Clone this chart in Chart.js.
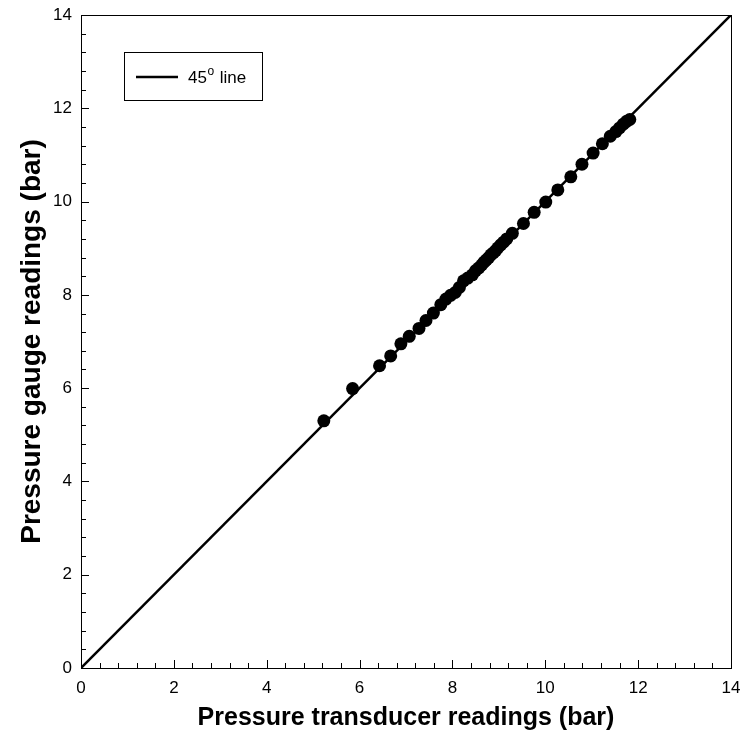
<!DOCTYPE html>
<html>
<head>
<meta charset="utf-8">
<script src="https://cdn.jsdelivr.net/npm/chart.js@4/dist/chart.umd.min.js"></script>
<style>
  body { margin: 0; background: #fff; }
  canvas { display: block; }
</style>
</head>
<body>
<canvas id="chartId" width="741" height="744"></canvas>
<script>
// Pressure gauge vs pressure transducer readings

const transducer = [5.23, 5.85, 6.43, 6.67, 6.89, 7.07, 7.28, 7.43, 7.59, 7.75, 7.86, 7.96, 8.06, 8.15, 8.24,
  8.33, 8.43, 8.5, 8.57, 8.63, 8.68, 8.73, 8.78, 8.83, 8.88, 8.93, 8.98, 9.04, 9.1, 9.17,
  9.29, 9.53, 9.76, 10.01, 10.27, 10.55, 10.79, 11.03, 11.23, 11.4, 11.52, 11.6, 11.68, 11.75, 11.82];
const gauge = [5.30, 5.99, 6.48, 6.69, 6.95, 7.11, 7.28, 7.45, 7.61, 7.79, 7.91, 7.99, 8.05, 8.16, 8.3,
  8.36, 8.43, 8.52, 8.58, 8.64, 8.70, 8.75, 8.80, 8.86, 8.90, 8.95, 9.01, 9.07, 9.13, 9.2,
  9.32, 9.53, 9.77, 9.99, 10.25, 10.53, 10.8, 11.04, 11.24, 11.4, 11.5, 11.58, 11.66, 11.72, 11.76];
const lineX = [0, 14];
const lineY = [0, 14];
const axisMin = 0;
const axisMax = 14;
const majorStep = 2;
const minorStep = 0.4;

const FONT = "Arial, 'Liberation Sans', Helvetica, sans-serif";

const points = transducer.map((x, i) => ({x: x, y: gauge[i]}));
const linePts = lineX.map((x, i) => ({x: x, y: lineY[i]}));

// box round the plot, inward ticks and the legend
const framePlugin = {
  id: 'frame',
  afterDraw(chart) {
    const ctx = chart.ctx;
    const a = chart.chartArea;
    const xs = chart.scales.x;
    const ys = chart.scales.y;
    ctx.save();
    ctx.strokeStyle = '#000';
    ctx.lineWidth = 1;
    ctx.strokeRect(a.left + 0.5, a.top + 0.5, a.right - a.left, a.bottom - a.top);

    const n = Math.round((axisMax - axisMin) / minorStep);
    ctx.beginPath();
    for (let i = 0; i <= n; i++) {
      const v = axisMin + i * minorStep;
      const len = (i % Math.round(majorStep / minorStep) === 0) ? 8 : 5;
      const px = Math.round(xs.getPixelForValue(v)) + 0.5;
      ctx.moveTo(px, a.bottom);
      ctx.lineTo(px, a.bottom - len);
      const py = Math.round(ys.getPixelForValue(v)) + 0.5;
      ctx.moveTo(a.left, py);
      ctx.lineTo(a.left + len, py);
    }
    ctx.stroke();

    // legend
    ctx.strokeRect(124.5, 52.5, 138, 48);
    ctx.lineWidth = 2.5;
    ctx.beginPath();
    ctx.moveTo(136, 77);
    ctx.lineTo(178, 77);
    ctx.stroke();
    ctx.fillStyle = '#000';
    ctx.textBaseline = 'alphabetic';
    ctx.font = '17px ' + FONT;
    ctx.fillText('45', 188, 83);
    const w45 = ctx.measureText('45').width;
    ctx.font = '12px ' + FONT;
    ctx.fillText('o', 188 + w45 + 0.5, 75);
    const wo = ctx.measureText('o').width;
    ctx.font = '17px ' + FONT;
    ctx.fillText(' line', 188 + w45 + wo + 1.5, 83);
    ctx.restore();
  }
};

const chrt = document.getElementById('chartId').getContext('2d');
const chartId = new Chart(chrt, {
  type: 'scatter',
  data: {
    datasets: [{
      label: 'Readings',
      data: points,
      backgroundColor: '#000',
      borderColor: '#000',
      borderWidth: 0,
      pointRadius: 6.5,
      order: 0
    }, {
      label: '45° line',
      data: linePts,
      showLine: true,
      borderColor: '#000',
      borderWidth: 2.5,
      pointRadius: 0,
      order: 1
    }]
  },
  options: {
    responsive: false,
    animation: false,
    layout: { padding: { top: 15, right: 10, left: 0, bottom: 0 } },
    plugins: {
      legend: { display: false },
      tooltip: { enabled: false }
    },
    scales: {
      x: {
        type: 'linear',
        min: axisMin,
        max: axisMax,
        afterFit: (s) => { s.height = 76; s.paddingLeft = 0; s.paddingRight = 0; },
        border: { display: false },
        grid: { display: false, drawTicks: false },
        ticks: { stepSize: majorStep, padding: 10, color: '#000', font: { family: FONT, size: 17 } },
        title: {
          display: true,
          text: 'Pressure transducer readings (bar)',
          color: '#000',
          font: { family: FONT, size: 25, weight: 'bold' },
          padding: { top: 0, bottom: 11 }
        }
      },
      y: {
        type: 'linear',
        min: axisMin,
        max: axisMax,
        afterFit: (s) => { s.width = 81; s.paddingTop = 0; s.paddingBottom = 0; },
        border: { display: false },
        grid: { display: false, drawTicks: false },
        ticks: { stepSize: majorStep, padding: 9, color: '#000', font: { family: FONT, size: 17 } },
        title: {
          display: true,
          text: 'Pressure gauge readings (bar)',
          color: '#000',
          font: { family: FONT, size: 28, weight: 'bold' },
          padding: { top: 15, bottom: 0 }
        }
      }
    }
  },
  plugins: [framePlugin]
});
</script>
</body>
</html>
